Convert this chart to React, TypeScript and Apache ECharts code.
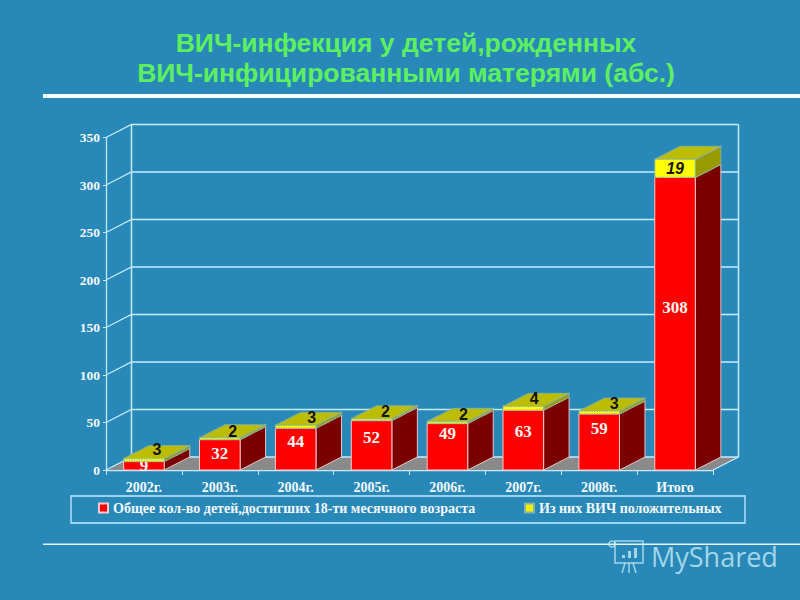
import React, { useEffect, useRef } from "react";
import * as echarts from "echarts";

const categories = ["2002г.", "2003г.", "2004г.", "2005г.", "2006г.", "2007г.", "2008г.", "Итого"];
const totalCounts = [9, 32, 44, 52, 49, 63, 59, 308];
const positiveCounts = [3, 2, 3, 2, 2, 4, 3, 19];
const yTicks = [0, 50, 100, 150, 200, 250, 300, 350];
const totalName = "Общее кол-во детей,достигших 18-ти месячного возраста";
const positiveName = "Из них ВИЧ положительных";

// Hand-placed label nudges seen in the slide (pixels)
const totalLabelLift = [0, 1, 8, 8, 13, 9, 13, 16];
const positiveLabelShiftX = [13, 13, 16, 14, 16, 11, 15, 0];
const positiveLabelLift = [9, 6, 8, 7, 7, 8, 8, -9];

const DX = 25.5;
const DY = 13;
const BAR_RATIO = 0.535;
const AXIS_COLOR = "#c4ecff";
const DOTS = "#86b4a4";
const SERIF = "'Liberation Serif'";
const SANS = "'Liberation Sans'";

function poly(points: number[][], fill: string, stroke: string, extra: any = {}) {
  return { type: "polygon", shape: { points }, style: { fill, stroke, lineWidth: 1, ...extra } };
}

function renderWall(params: any, api: any) {
  const cs = params.coordSys;
  const v = api.value(1);
  const pt = api.coord([0, v]);
  const left = cs.x;
  const right = cs.x + cs.width;
  const children: any[] = [];
  if (v === 0) {
    children.push(
      poly(
        [[left, pt[1]], [left + DX, pt[1] - DY], [right + DX, pt[1] - DY], [right, pt[1]]],
        "#8a8a8a",
        "none"
      )
    );
    children.push({
      type: "line",
      shape: { x1: right, y1: pt[1], x2: right + DX, y2: pt[1] - DY },
      style: { stroke: AXIS_COLOR, lineWidth: 1.3 },
    });
  }
  children.push({
    type: "polyline",
    shape: { points: [[left, pt[1]], [left + DX, pt[1] - DY], [right + DX, pt[1] - DY]] },
    style: { stroke: AXIS_COLOR, lineWidth: 1.3, fill: "none" },
  });
  if (v === yTicks[yTicks.length - 1]) {
    const bottom = api.coord([0, 0])[1] - DY;
    for (const x of [left + DX, right + DX]) {
      children.push({
        type: "line",
        shape: { x1: x, y1: pt[1] - DY, x2: x, y2: bottom },
        style: { stroke: AXIS_COLOR, lineWidth: 1.5 },
      });
    }
  }
  return { type: "group", children };
}

function renderTotal(params: any, api: any) {
  const i = api.value(0);
  const v = api.value(1);
  const top = api.coord([i, v]);
  const base = api.coord([i, 0]);
  const w = api.size([1, 0])[0] * BAR_RATIO;
  const l = top[0] - w / 2;
  const r = top[0] + w / 2;
  return {
    type: "group",
    children: [
      poly([[r, top[1]], [r + DX, top[1] - DY], [r + DX, base[1] - DY], [r, base[1]]], "#7a0000", "#e8c4c4"),
      poly([[l, top[1]], [r, top[1]], [r, base[1]], [l, base[1]]], "#ff0000", "#ffc8c8"),
      {
        type: "text",
        style: {
          x: top[0],
          y: (top[1] + base[1]) / 2 - totalLabelLift[i],
          text: String(v),
          fill: "#fff4f0",
          font: `bold 17px ${SERIF}`,
          align: "center",
          verticalAlign: "middle",
        },
      },
    ],
  };
}

function renderPositive(params: any, api: any) {
  const i = api.value(0);
  const b = api.value(1);
  const t = api.value(2);
  const top = api.coord([i, t]);
  const base = api.coord([i, b]);
  const w = api.size([1, 0])[0] * BAR_RATIO;
  const l = top[0] - w / 2;
  const r = top[0] + w / 2;
  const dash = { lineDash: [1.5, 1], lineWidth: 1.4 };
  const last = i === categories.length - 1;
  return {
    type: "group",
    children: [
      poly([[r, top[1]], [r + DX, top[1] - DY], [r + DX, base[1] - DY], [r, base[1]]], "#999900", DOTS, dash),
      poly([[l, top[1]], [l + DX, top[1] - DY], [r + DX, top[1] - DY], [r, top[1]]], "#bcbc00", DOTS, dash),
      poly([[l, top[1]], [r, top[1]], [r, base[1]], [l, base[1]]], "#ffff00", DOTS, dash),
      {
        type: "text",
        style: {
          x: top[0] + positiveLabelShiftX[i],
          y: top[1] - positiveLabelLift[i],
          text: String(t - b),
          fill: "#141414",
          font: `${last ? "italic " : ""}bold 16px ${SANS}`,
          align: "center",
          verticalAlign: "middle",
        },
      },
    ],
  };
}

export default function App() {
  const ref = useRef<HTMLDivElement>(null);
  useEffect(() => {
    if (!ref.current) return;
    const logoColor = "rgba(205,240,248,0.75)";
    const logoLine = { stroke: logoColor, lineWidth: 1.5, fill: "none" };
    const chart = echarts.init(ref.current, undefined, { renderer: "svg" });
    chart.setOption({
      animation: false,
      backgroundColor: "#2888b8",
      title: {
        text: "ВИЧ-инфекция у детей,рожденных\nВИЧ-инфицированными матерями (абс.)",
        left: 401,
        top: 23,
        textAlign: "center",
        textStyle: {
          color: "#5cf060",
          fontFamily: SANS,
          fontWeight: "bold",
          fontSize: 26.5,
          lineHeight: 30,
        },
      },
      grid: { left: 106, right: 87, top: 137.5, bottom: 130 },
      xAxis: {
        type: "category",
        data: categories,
        axisLine: { lineStyle: { color: AXIS_COLOR, width: 1.3 } },
        axisTick: { show: true, length: 5, lineStyle: { color: AXIS_COLOR } },
        axisLabel: { color: "#f4f8ff", fontFamily: SERIF, fontWeight: "bold", fontSize: 14, margin: 10 },
      },
      yAxis: {
        type: "value",
        min: 0,
        max: 350,
        interval: 50,
        splitLine: { show: false },
        axisLine: { show: true, lineStyle: { color: AXIS_COLOR, width: 1.3 } },
        axisTick: { show: true, length: 3, lineStyle: { color: AXIS_COLOR } },
        axisLabel: { color: "#f4f8ff", fontFamily: SERIF, fontWeight: "bold", fontSize: 13.5, margin: 6 },
      },
      legend: [
        {
          data: [totalName],
          left: 98,
          top: 501,
          itemWidth: 9,
          itemHeight: 9,
          itemGap: 0,
          padding: 0,
          icon: "rect",
          textStyle: { color: "#f4f8ff", fontFamily: SERIF, fontWeight: "bold", fontSize: 14 },
          selectedMode: false,
        },
        {
          data: [positiveName],
          left: 524,
          top: 501,
          itemWidth: 9,
          itemHeight: 9,
          padding: 0,
          icon: "rect",
          textStyle: { color: "#f4f8ff", fontFamily: SERIF, fontWeight: "bold", fontSize: 14 },
          selectedMode: false,
        },
      ],
      graphic: [
        { type: "rect", shape: { x: 43, y: 94, width: 757, height: 4 }, style: { fill: "#f2fbff" } },
        { type: "rect", shape: { x: 43, y: 543.5, width: 757, height: 1.6 }, style: { fill: "#e4f6ff" } },
        {
          type: "rect",
          z: -1,
          shape: { x: 71, y: 496, width: 674, height: 27 },
          style: { fill: "none", stroke: AXIS_COLOR, lineWidth: 1.3 },
        },
        {
          type: "text",
          style: { x: 651, y: 556, text: "MyShared", fill: logoColor, font: "27px 'Open Sans'", verticalAlign: "middle" },
        },
        { type: "rect", shape: { x: 615, y: 541, width: 28, height: 22 }, style: logoLine },
        { type: "circle", shape: { cx: 612, cy: 544, r: 3 }, style: logoLine },
        { type: "line", shape: { x1: 625, y1: 563, x2: 622, y2: 573 }, style: logoLine },
        { type: "line", shape: { x1: 629, y1: 563, x2: 629, y2: 573 }, style: logoLine },
        { type: "line", shape: { x1: 633, y1: 563, x2: 636, y2: 573 }, style: logoLine },
        { type: "rect", shape: { x: 622, y: 555, width: 3, height: 3 }, style: { fill: logoColor } },
        { type: "rect", shape: { x: 628, y: 551, width: 3, height: 7 }, style: { fill: logoColor } },
        { type: "rect", shape: { x: 634, y: 548, width: 3, height: 10 }, style: { fill: logoColor } },
      ],
      series: [
        {
          name: "wall",
          type: "custom",
          renderItem: renderWall,
          silent: true,
          clip: false,
          z: 1,
          encode: { x: 0, y: 1 },
          data: yTicks.map((t) => [0, t]),
        },
        {
          name: totalName,
          type: "custom",
          renderItem: renderTotal,
          silent: true,
          clip: false,
          z: 3,
          itemStyle: { color: "#ff0000", borderColor: "#ffc8c8", borderWidth: 1 },
          encode: { x: 0, y: 1 },
          data: totalCounts.map((v, i) => [i, v]),
        },
        {
          name: positiveName,
          type: "custom",
          renderItem: renderPositive,
          silent: true,
          clip: false,
          z: 4,
          itemStyle: { color: "#f0f000", borderColor: DOTS, borderWidth: 1, borderType: "dotted" },
          encode: { x: 0, y: [1, 2] },
          data: positiveCounts.map((v, i) => [i, totalCounts[i], totalCounts[i] + v]),
        },
      ],
    });
    return () => chart.dispose();
  }, []);
  return <div ref={ref} style={{ position: "fixed", left: 0, top: 0, width: 800, height: 600 }} />;
}
